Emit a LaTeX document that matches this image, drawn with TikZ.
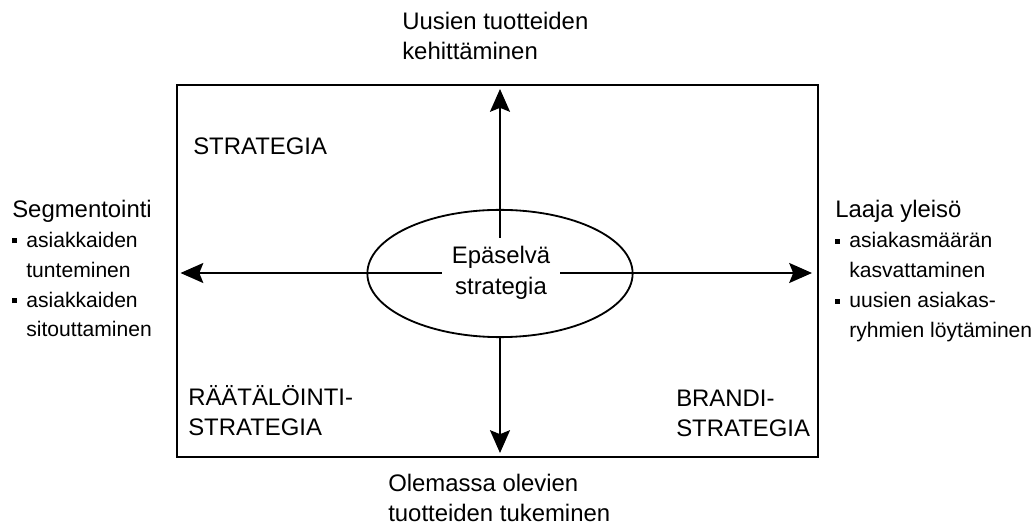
\documentclass[tikz,border=0pt]{standalone}
\usepackage{fontspec}
\setmainfont{Liberation Sans}
\usetikzlibrary{arrows.meta,shapes.geometric}

% small square bullet and the matching hanging indent
\newcommand{\bul}{\makebox[10pt][l]{\raisebox{2.8pt}{\rule{3.6pt}{3.6pt}}}}
\newcommand{\hang}{\hspace*{10pt}}

\begin{document}
\begin{tikzpicture}[
    x=0.025cm, y=-0.025cm,
    >={Stealth[length=5.7mm, width=5mm, inset=1mm]},
    frame/.style={draw, line width=1.4pt},
    core/.style={draw, ellipse, line width=1.3pt,
        minimum width=6.63cm, minimum height=3.18cm, inner sep=0pt},
    corelbl/.style={align=center, inner sep=0pt,
        minimum width=2.95cm, minimum height=1.75cm,
        font=\fontsize{17}{22}\selectfont},
    quadlbl/.style={anchor=base west, align=left, inner sep=0pt,
        font=\fontsize{17}{21.6}\selectfont},
    sidelbl/.style={anchor=base west, align=left, inner sep=0pt,
        font=\fontsize{15}{21.3}\selectfont},
    axis/.style={->, line width=1.4pt}
]
\useasboundingbox (0,0) rectangle (1034,530);

% the field and its centre
\draw[frame] (177,85) rectangle (818,457);
\node[core] (E) at (500,273.5) {};
\node[corelbl] (C) at (501,273) {Epäselvä\\strategia};

% arrow ends
\coordinate (tipN) at (500,89);
\coordinate (tipS) at (500,453);
\coordinate (tipW) at (180.5,273);
\coordinate (tipE) at (812,273);

\draw[axis] (C.north -| tipN) -- (tipN);
\draw[axis] (E.south) -- (tipS);
\draw[axis] (C.west) -- (tipW);
\draw[axis] (C.east) -- (tipE);

% axis ends (anchored at the last line)
\node[quadlbl] (up) at (402,60) {Uusien tuotteiden\\kehittäminen};
\node[quadlbl] (down) at (388,521.7) {Olemassa olevien\\tuotteiden tukeminen};
\node[sidelbl] (left) at (12,337)
    {{\fontsize{17}{21.3}\selectfont Segmentointi}\\
     \bul asiakkaiden\\ \hang tunteminen\\
     \bul asiakkaiden\\ \hang sitouttaminen};
\node[sidelbl] (right) at (835,337.5)
    {{\fontsize{17}{21.3}\selectfont Laaja yleisö}\\
     \bul asiakasmäärän\\ \hang kasvattaminen\\
     \bul uusien asiakas-\\ \hang ryhmien löytäminen};

% quadrant names
\node[quadlbl] (q1) at (193,155) {STRATEGIA};
\node[quadlbl] (q2) at (188,435.5) {RÄÄTÄLÖINTI-\\STRATEGIA};
\node[quadlbl] (q3) at (676,437) {BRANDI-\\STRATEGIA};
\end{tikzpicture}
\end{document}
